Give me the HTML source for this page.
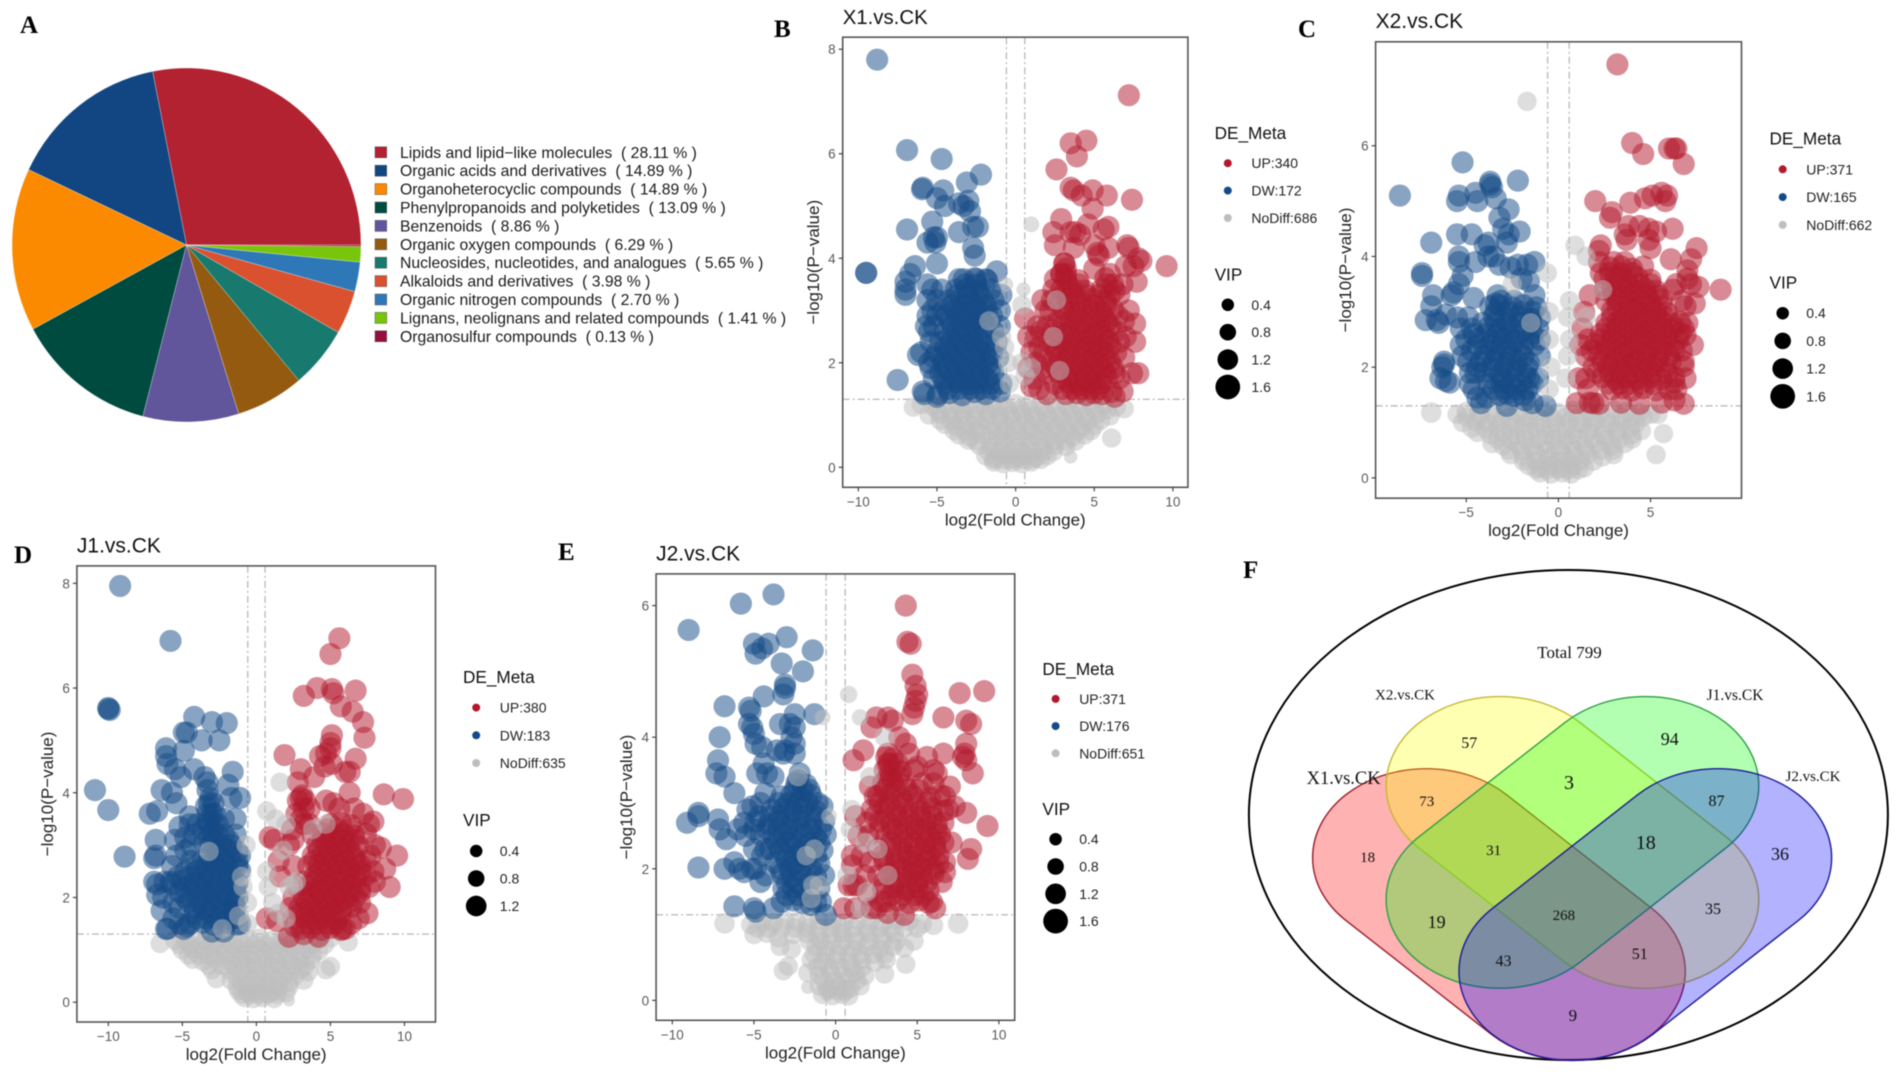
<!DOCTYPE html>
<html lang="en">
<head>
<meta charset="utf-8">
<title>Metabolite classes, volcano plots and Venn diagram</title>
<style>
html,body{margin:0;padding:0;background:#fff;}
svg{display:block;font-family:"Liberation Sans",Arial,sans-serif;filter:blur(0.45px);}
.letter{font-family:"Liberation Serif",serif;font-weight:bold;font-size:25px;fill:#000;}
.vt{font-family:"Liberation Serif",serif;fill:#111;text-anchor:middle;}
</style>
</head>
<body>
<svg id="figure" width="1902" height="1076" viewBox="0 0 1902 1076" xmlns="http://www.w3.org/2000/svg">
  <rect width="1902" height="1076" fill="#fff"/>
  <text class="letter" x="20" y="33">A</text>
  <text class="letter" x="774" y="37">B</text>
  <text class="letter" x="1298" y="37">C</text>
  <text class="letter" x="14" y="563">D</text>
  <text class="letter" x="558" y="560">E</text>
  <text class="letter" x="1243" y="578">F</text>

  <g id="pie"></g>
  <g id="pie-legend"></g>
  <g id="volcanoes"></g>

  <g id="venn">
    <ellipse cx="1568.4" cy="815" rx="319.5" ry="245" fill="none" stroke="#000" stroke-width="2"/>
    <g transform="translate(1230,550) scale(0.4286,0.3355)">
      <rect x="-505" y="-265" width="1010" height="530" rx="265" ry="265" transform="translate(627.5,1086.5) rotate(45)" fill="#ff0000" fill-opacity="0.3" stroke="#9c1c2c" stroke-width="1.4" vector-effect="non-scaling-stroke"/>
      <rect x="-505" y="-265" width="1010" height="530" rx="265" ry="265" transform="translate(799,871.5) rotate(45)" fill="#ffff00" fill-opacity="0.3" stroke="#c4b832" stroke-width="1.4" vector-effect="non-scaling-stroke"/>
      <rect x="-505" y="-265" width="1010" height="530" rx="265" ry="265" transform="translate(799,871.5) rotate(-45)" fill="#00ff00" fill-opacity="0.3" stroke="#2f9e44" stroke-width="1.4" vector-effect="non-scaling-stroke"/>
      <rect x="-505" y="-265" width="1010" height="530" rx="265" ry="265" transform="translate(969,1086.5) rotate(-45)" fill="#0000ff" fill-opacity="0.3" stroke="#1c1c96" stroke-width="1.4" vector-effect="non-scaling-stroke"/>
    </g>
    <text class="vt" x="1569.5" y="658" font-size="17">Total 799</text>
    <text class="vt" x="1405" y="699.5" font-size="15">X2.vs.CK</text>
    <text class="vt" x="1735" y="700" font-size="15.5">J1.vs.CK</text>
    <text class="vt" x="1343.6" y="784" font-size="18.5">X1.vs.CK</text>
    <text class="vt" x="1813" y="781" font-size="15">J2.vs.CK</text>
    <text class="vt" x="1469.2" y="748" font-size="16">57</text>
    <text class="vt" x="1669.8" y="745" font-size="18">94</text>
    <text class="vt" x="1569" y="789" font-size="20">3</text>
    <text class="vt" x="1426.7" y="806" font-size="15">73</text>
    <text class="vt" x="1716.5" y="806" font-size="16">87</text>
    <text class="vt" x="1493.6" y="855" font-size="15">31</text>
    <text class="vt" x="1645.8" y="849" font-size="20">18</text>
    <text class="vt" x="1367.6" y="862" font-size="15">18</text>
    <text class="vt" x="1780" y="860" font-size="18">36</text>
    <text class="vt" x="1436.6" y="928" font-size="18">19</text>
    <text class="vt" x="1563.9" y="920" font-size="15">268</text>
    <text class="vt" x="1713" y="914" font-size="16">35</text>
    <text class="vt" x="1503.5" y="966" font-size="16">43</text>
    <text class="vt" x="1639.8" y="959" font-size="16">51</text>
    <text class="vt" x="1572.9" y="1021" font-size="17">9</text>
  </g>
</svg>

<script>
const pieLabels = ["Lipids and lipid\u2212like molecules","Organic acids and derivatives","Organoheterocyclic compounds","Phenylpropanoids and polyketides","Benzenoids","Organic oxygen compounds","Nucleosides, nucleotides, and analogues","Alkaloids and derivatives","Organic nitrogen compounds","Lignans, neolignans and related compounds","Organosulfur compounds"];
const pieValues = [28.11,14.89,14.89,13.09,8.86,6.29,5.65,3.98,2.70,1.41,0.13];
const pieColors = ["#b22231","#124682","#fb8a00","#004b40","#61559b","#945a10","#187a6e","#d9512f","#2f78b7","#78c50b","#960d3f"];

const vipLevels = [0.4,0.8,1.2,1.6];
const vipLevelsJ1 = [0.4,0.8,1.2];

const x1XTicks = [-10,-5,0,5,10];
const x1YTicks = [0,2,4,6,8];
const x1Counts = [340,172,686];
const x1Down = [[-8.8,7.8],[-6.9,6.07],[-4.7,5.9],[-2.2,5.6],[-3.1,5.45],[-5.9,5.35],[-5.95,5.32],[-4.6,5.3],[-5,5.15],[-4.5,5],[-3.6,5.05],[-3.3,5],[-3,5.1],[-2.9,4.9],[-6.9,4.55],[-5.3,4.7],[-2.7,4.6],[-2.4,4.6],[-3.6,4.5],[-5,4.4],[-5.2,4.4],[-5.6,4.3],[-5.1,4.3],[-2.7,4.2],[-2.6,4.05],[-9.5,3.72],[-9.5,3.72],[-5,3.9],[-6.4,3.85],[-6.7,3.7],[-7,3.55],[-7,3.4],[-7,3.3],[-5.6,3.5],[-5.3,3.4],[-4.7,3.4],[-3.6,3.6],[-2.5,3.6],[-1.2,3.75],[-1.9,3.6],[-6.2,2.15],[-6,2.2],[-5.9,1.45],[-5.8,1.4],[-5.7,2.7],[-5.6,2.9],[-5.2,1.7],[-5,1.35],[-5.4,2.4],[-5,2.9],[-5.3,3],[-7.5,1.67],
[-4.9,1.4],[-4.2,1.42],[-3.4,1.38],[-2.6,1.44],[-1.9,1.4],[-1,1.45],[-4.5,1.6],[-3.7,1.63],[-3,1.58],[-2.3,1.62],[-1.6,1.6],[-4.8,1.8],[-4.1,1.82],[-3.4,1.78],[-2.7,1.8],[-2.1,1.84],[-1.4,1.8],[-4.6,2],[-3.9,2.02],[-3.2,1.97],[-2.5,2.02],[-1.8,1.98],[-5,2.2],[-4.3,2.22],[-3.6,2.18],[-2.9,2.2],[-2.2,2.23],[-1.5,2.18],[-4.8,2.4],[-4.1,2.42],[-3.4,2.38],[-2.7,2.42],[-2,2.38],[-1.2,2.4],[-4.5,2.6],[-3.8,2.62],[-3.1,2.58],[-2.4,2.62],[-1.4,2.6],[-4.2,2.8],[-3.5,2.82],[-2.8,2.78],[-2.1,2.82],[-4.6,3],[-3.9,3.02],[-3.2,2.98],[-2.5,3.02],[-1.8,2.98],[-1,3],[-4.2,3.2],[-3.5,3.22],[-2.8,3.18],[-2.1,3.22],[-1.4,3.2],[-3.8,3.4],[-3.1,3.42],[-2.4,3.38],[-1.6,3.4],[-3.3,3.6],[-2.6,3.62],[-1.8,3.58],
[-4.3,1.5],[-3.6,1.5],[-2.9,1.5],[-2.2,1.5],[-1.5,1.5],[-4.6,1.7],[-3.9,1.7],[-3.2,1.7],[-2.5,1.7],[-1.8,1.7],[-4.4,1.9],[-3.7,1.9],[-3,1.9],[-2.3,1.9],[-1.6,1.9],[-4.7,2.1],[-4,2.1],[-3.3,2.1],[-2.6,2.1],[-1.9,2.1],[-4.5,2.3],[-3.8,2.3],[-3.1,2.3],[-2.4,2.3],[-1.7,2.3],[-4.2,2.5],[-3.5,2.5],[-2.8,2.5],[-2.1,2.5],[-4,2.7],[-3.3,2.7],[-2.6,2.7],[-1.9,2.7],[-4.4,2.9],[-3.7,2.9],[-3,2.9],[-2.3,2.9],[-1.5,2.9],[-4,3.1],[-3.3,3.1],[-2.6,3.1],[-1.9,3.1],[-3.7,3.3],[-3,3.3],[-2.3,3.3],[-3.2,3.5],[-2.5,3.5],
[-5.5,2],[-5.5,2.6],[-5.6,3.2],[-5.2,2.1],[-5.2,2.7],[-5,3.2],[-5.4,1.9],[-1,2.7],[-1.1,2.1],[-0.9,1.6],[-0.9,3.3]];
const x1Up = [[7.2,7.12],[3.5,6.2],[4.5,6.25],[3.9,5.95],[2.6,5.7],[3.5,5.35],[3.7,5.3],[4.9,5.3],[4.2,5.2],[5.8,5.2],[7.4,5.12],[4.9,4.95],[2.9,4.75],[2.4,4.5],[3.5,4.5],[3.8,4.5],[4.6,4.65],[5.6,4.55],[5.9,4.6],[4.1,4.45],[2.5,4.25],[3.7,4.2],[5,4.25],[5.9,4.2],[5.3,4.05],[5.2,4.1],[7.1,4.25],[7.2,4.2],[7.8,4],[8,3.95],[9.6,3.85],[7.5,3.85],[7,3.85],[7.7,3.55],[6,3.7],[5,3.8],[3.1,3.9],[3.2,3.8],[2.9,3.7],[0.6,2.85],[0.8,2.5],[1,2.2],[0.8,1.9],[1,1.55],[1.4,2.7],[1.7,3.2],[1.8,1.9],[7.8,1.8],[7.4,1.8],[7.6,2.4],[7.6,2.75],[7.2,3],[7,2.5],[6.9,2.1],[6.3,1.35],[6.8,1.45],
[3.2,1.4],[3.9,1.42],[4.5,1.38],[5,1.42],[5.5,1.4],[6.1,1.44],[2.5,1.6],[3.4,1.62],[4.1,1.58],[4.8,1.62],[5.4,1.6],[2,1.8],[2.8,1.82],[3.6,1.78],[4.3,1.82],[5,1.78],[5.7,1.82],[6.3,1.8],[2.3,2],[3.1,2.02],[3.9,1.98],[4.6,2.02],[5.3,1.98],[6,2.02],[1.8,2.2],[2.6,2.22],[3.4,2.18],[4.2,2.22],[4.9,2.18],[5.6,2.22],[6.4,2.2],[2.1,2.4],[2.9,2.42],[3.7,2.38],[4.5,2.42],[5.2,2.38],[5.9,2.42],[1.6,2.6],[2.4,2.62],[3.3,2.58],[4.1,2.62],[4.9,2.58],[5.6,2.62],[6.4,2.6],[2.7,2.8],[3.5,2.82],[4.3,2.78],[5.1,2.82],[5.8,2.78],[1.9,3],[3,3.02],[3.8,2.98],[4.6,3.02],[5.4,2.98],[6.2,3.02],[2.3,3.2],[3.3,3.22],[4.1,3.18],[4.9,3.22],[5.7,3.18],[2.9,3.4],[3.6,3.42],[4.4,3.38],[5.5,3.42],[6.3,3.38],[2.5,3.6],[3.2,3.62],[4,3.58],[5.7,3.62],
[3,1.5],[3.6,1.5],[4.2,1.5],[4.8,1.5],[5.3,1.5],[2.9,1.7],[3.7,1.7],[4.4,1.7],[5.1,1.7],[5.8,1.7],[2.6,1.9],[3.4,1.9],[4.1,1.9],[4.8,1.9],[5.5,1.9],[6.2,1.9],[2.8,2.1],[3.5,2.1],[4.3,2.1],[5,2.1],[5.7,2.1],[2.4,2.3],[3.2,2.3],[3.9,2.3],[4.6,2.3],[5.3,2.3],[6,2.3],[2.7,2.5],[3.5,2.5],[4.2,2.5],[4.9,2.5],[5.6,2.5],[3,2.7],[3.8,2.7],[4.5,2.7],[5.3,2.7],[6,2.7],[3.2,2.9],[4,2.9],[4.8,2.9],[5.6,2.9],[3.4,3.1],[4.2,3.1],[5,3.1],[5.8,3.1],[3,3.3],[3.7,3.3],[4.5,3.3],[5.3,3.3],[6,3.3],[3.3,3.5],[4,3.5],[5.8,3.5],[2.9,3.7],[3.2,3.7],[3.1,3.9],
[1.3,2],[1.5,2.3],[1.2,1.7],[1.5,1.5],[2,1.4],[2,2.7],[2.2,3],[2.4,3.4],[1.3,2.5],[6.6,1.7],[6.6,2.4],[6.5,2.9],[6.6,3.3],[6.8,3.5],[6.9,2.8],[6.2,3.5]];
const x1NoDiff = [[-6.5,1.15],[-6,1.2],[-5.3,1.18],[-4.5,1.22],[-3.7,1.2],[-3,1.18],[-2.2,1.22],[-1.5,1.2],[-0.7,1.18],[0,1.22],[0.8,1.2],[1.6,1.18],[2.4,1.22],[3.2,1.2],[4,1.18],[4.8,1.22],[5.6,1.2],[6.4,1.15],[6.9,1.12],[-5.5,1],[-4.8,1.02],[-4,0.98],[-3.3,1.02],[-2.5,0.98],[-1.7,1.02],[-1,0.98],[-0.3,1],[0.4,1.02],[1.2,0.98],[2,1.02],[2.8,0.98],[3.6,1.02],[4.4,0.98],[5.2,1.02],[6,0.98],[-4.5,0.82],[-3.8,0.78],[-3,0.82],[-2.2,0.78],[-1.4,0.82],[-0.6,0.78],[0.2,0.82],[1,0.78],[1.8,0.82],[2.6,0.78],[3.4,0.82],[4.2,0.78],[5,0.8],[-3.6,0.62],[-2.9,0.58],[-2,0.62],[-1.2,0.58],[-0.4,0.62],[0.4,0.58],[1.2,0.62],[2,0.58],[2.8,0.62],[3.6,0.58],[4.4,0.62],[6.1,0.56],[-3,0.52],[-2.3,0.42],[-1.5,0.38],[-0.7,0.42],[0.1,0.38],[0.9,0.42],[1.7,0.38],[2.5,0.42],[3.2,0.4],[-1.9,0.22],[-1.3,0.18],[-0.6,0.22],[0.1,0.18],[0.7,0.22],[1.3,0.18],[2,0.22],[3.5,0.2,0.3],[-1.4,0.1],[-0.8,0.07],[-0.2,0.09],[0.4,0.07],[1,0.1],[1,4.65,0.6],[0.5,3.4,0.4],[0.4,3.1],[-0.6,3.5,0.4],[-0.9,2.5],[-0.7,2.3],[-0.5,2],[0.4,2],[0.6,1.75],[-0.4,1.6],[-1.7,2.8],[2.4,2.5],[2.8,1.85],[2.6,3.2],[1,1.9],
[-5,1.1],[-4.2,1.1],[-3.4,1.1],[-2.6,1.1],[-1.9,1.1],[-1.2,1.1],[-0.5,1.1],[0.3,1.1],[1,1.1],[1.8,1.1],[2.6,1.1],[3.4,1.1],[4.2,1.1],[5,1.1],[5.8,1.1],[-4.8,0.9],[-4.1,0.9],[-3.4,0.9],[-2.6,0.9],[-1.8,0.9],[-1,0.9],[-0.2,0.9],[0.6,0.9],[1.4,0.9],[2.2,0.9],[3,0.9],[3.8,0.9],[4.6,0.9],[5.4,0.9],[-3.9,0.7],[-3.2,0.7],[-2.5,0.7],[-1.6,0.7],[-0.8,0.7],[0,0.7],[0.8,0.7],[1.6,0.7],[2.4,0.7],[3.2,0.7],[4,0.7],[4.8,0.7],[-2.5,0.5],[-1.6,0.5],[-0.8,0.5],[0,0.5],[0.8,0.5],[1.6,0.5],[2.4,0.5],[3.2,0.5],[3.8,0.5],[-1.7,0.3],[-1,0.3],[-0.3,0.3],[0.4,0.3],[1.1,0.3],[1.8,0.3],[2.4,0.3],[-1.4,0.15],[-0.8,0.15],[-0.2,0.15],[0.4,0.15],[1,0.15],[1.6,0.15]];

const x2XTicks = [-5,0,5];
const x2YTicks = [0,2,4,6];
const x2Counts = [371,165,662];
const x2Down = [[-8.6,5.1],[-5.2,5.7],[-2.2,5.37],[-3.7,5.35],[-3.7,5.3],[-3.6,5.25],[-5.4,5.1],[-5.5,5],[-4.5,5.15],[-4.4,5],[-3.4,5.05],[-2.7,4.85],[-3.2,4.7],[-3,4.5],[-2.1,4.45],[-2.7,4.4],[-2.8,4.25],[-5.5,4.4],[-4.7,4.4],[-6.9,4.25],[-3.8,4.25],[-4,4.2],[-3.5,4],[-5.4,4],[-5.4,3.9],[-4.5,3.9],[-3.8,4],[-2.6,3.8],[-2.2,3.85],[-1.7,3.85],[-1.3,3.9],[-3.2,3.85],[-7.4,3.7],[-7.4,3.65],[-5.2,3.65],[-5.4,3.5],[-2,3.6],[-1.6,3.55],[-5.7,3.35],[-5.8,3.3],[-6.8,3.3],[-6.9,3.1],[-7.2,2.85],[-6.5,2.8],[-6.1,2.95],[-4.6,3.25],[-3.3,3.3],[-3.4,3.15],[-6.6,2.85],[-5.3,2.4],[-6.2,2.05],[-6.3,2],[-6.2,2.1],[-6.4,1.8],[-6.1,1.75],[-5.9,1.72],[-4.8,1.7],[-4.9,2.1],[-4.4,1.45],[-4.2,1.35],[-3.9,1.45],[-1.4,1.35],[-1.8,1.4],[-0.7,1.3],[-2.8,1.3],
[-3.2,1.5],[-2.8,1.52],[-2.4,1.48],[-1.9,1.5],[-3.8,1.7],[-3.1,1.72],[-2.6,1.68],[-2,1.72],[-1.4,1.7],[-4.8,1.9],[-4,1.92],[-3.2,1.88],[-2.6,1.92],[-1.8,1.88],[-4.2,2.1],[-3.5,2.12],[-2.9,2.08],[-2.2,2.12],[-1.6,2.08],[-4.7,2.3],[-4,2.32],[-3.4,2.28],[-2.8,2.32],[-2.1,2.28],[-5,2.5],[-4.3,2.52],[-3.6,2.48],[-3,2.52],[-2.4,2.48],[-1.6,2.52],[-1,2.5],[-4.7,2.7],[-3.8,2.72],[-3.2,2.68],[-2.6,2.72],[-1.9,2.68],[-1.1,2.7],[-4.9,2.9],[-3.5,2.92],[-2.9,2.88],[-2.2,2.92],[-1.5,2.88],[-3.7,3.1],[-3.2,3.12],[-2.5,3.08],[-1.9,3.12],[-1.2,3.08],
[-3.5,1.6],[-2.9,1.6],[-2.3,1.6],[-1.7,1.6],[-3.6,1.8],[-3,1.8],[-2.4,1.8],[-1.6,1.8],[-4.4,2],[-3.6,2],[-2.9,2],[-2.3,2],[-1.7,2],[-4,2.2],[-3.3,2.2],[-2.6,2.2],[-1.9,2.2],[-4.4,2.4],[-3.7,2.4],[-3.1,2.4],[-2.5,2.4],[-1.9,2.4],[-1.3,2.4],[-4.6,2.6],[-3.9,2.6],[-3.3,2.6],[-2.7,2.6],[-2.1,2.6],[-1.4,2.6],[-4.1,2.8],[-3.4,2.8],[-2.8,2.8],[-2.1,2.8],[-1.5,2.8],[-3.4,3],[-2.7,3],[-2,3],[-1.4,3],[-3.1,3.2],[-2.4,3.2],
[-5.3,2.7],[-5.2,2.2],[-5.5,2.9],[-4.6,1.6],[-4.5,1.9],[-1,2.2],[-1.1,1.8],[-1,2.9],[-1.3,3.3]];
const x2Up = [[3.2,7.47],[4,6.05],[4.6,5.85],[6,5.95],[6.3,5.95],[6.4,5.95],[6.8,5.67],[2,5],[3.9,4.97],[4.7,5.05],[5.1,5.1],[5.6,5.15],[5.9,5.1],[5.8,5],[2.9,4.8],[2.8,4.7],[3.8,4.55],[4.4,4.55],[4.9,4.5],[5.3,4.45],[6.2,4.5],[3.6,4.4],[3.7,4.3],[4.9,4.3],[2.3,4.2],[2.2,4.1],[5,4.15],[7.5,4.15],[7.2,3.95],[6.1,3.95],[2.2,3.9],[2.3,3.7],[7,3.75],[7,3.6],[7.2,3.5],[7.6,3.45],[8.8,3.4],[7.4,3.15],[1.7,3.3],[2.5,3.4],[6.7,3.2],[6.4,3.5],
[1,1.35],[1.7,1.36],[2.2,1.34],[3.4,1.36],[4.4,1.34],[5.6,1.36],[6.8,1.34],[6.3,1.4],[2.9,1.6],[3.5,1.62],[4,1.58],[4.6,1.62],[5.3,1.58],[6,1.6],[6.3,1.72],[1.5,1.8],[2.4,1.82],[3.1,1.78],[3.7,1.82],[4.3,1.78],[5,1.82],[5.6,1.78],[6.3,1.82],[1.9,2],[2.7,2.02],[3.3,1.98],[3.9,2.02],[4.5,1.98],[5.1,2.02],[5.8,1.98],[6.8,2.02],[1.5,2.2],[2.2,2.22],[2.9,2.18],[3.5,2.22],[4.1,2.18],[4.8,2.22],[5.4,2.18],[6,2.2],[1.2,2.4],[2,2.42],[2.6,2.38],[3.2,2.42],[3.8,2.38],[4.4,2.42],[5,2.38],[5.6,2.42],[6.2,2.38],[7.3,2.4],[2.3,2.6],[2.9,2.62],[3.5,2.58],[4.1,2.62],[4.7,2.58],[5.3,2.62],[5.9,2.58],[6.6,2.62],[6.9,2.58],[2.6,2.8],[3.2,2.82],[3.8,2.78],[4.4,2.82],[5,2.78],[5.6,2.82],[6.2,2.78],[6.6,2.82],[1.4,3],[2.9,3.02],[3.5,2.98],[4.1,3.02],[4.7,2.98],[5.3,3.02],[5.9,2.98],[2.6,3.2],[3.2,3.22],[3.8,3.18],[4.4,3.22],[5,3.18],[5.6,3.22],[2.9,3.4],[3.5,3.42],[4.1,3.38],[4.7,3.42],[5.3,3.38],[2.5,3.6],[3.1,3.62],[3.7,3.58],[4.3,3.62],[5,3.58],[2.8,3.8],[3.4,3.82],[4,3.78],[4.6,3.82],
[2.7,1.7],[3.3,1.7],[3.9,1.7],[4.5,1.7],[5.1,1.7],[2.1,1.9],[2.8,1.9],[3.4,1.9],[4,1.9],[4.6,1.9],[5.2,1.9],[5.9,1.9],[2.4,2.1],[3,2.1],[3.6,2.1],[4.2,2.1],[4.8,2.1],[5.4,2.1],[6.1,2.1],[1.8,2.3],[2.6,2.3],[3.2,2.3],[3.8,2.3],[4.4,2.3],[5,2.3],[5.6,2.3],[6.3,2.3],[1.6,2.5],[2.3,2.5],[2.9,2.5],[3.5,2.5],[4.1,2.5],[4.7,2.5],[5.3,2.5],[5.9,2.5],[6.5,2.5],[2.6,2.7],[3.2,2.7],[3.8,2.7],[4.4,2.7],[5,2.7],[5.6,2.7],[6.2,2.7],[6.8,2.7],[2.9,2.9],[3.5,2.9],[4.1,2.9],[4.7,2.9],[5.3,2.9],[5.9,2.9],[3.2,3.1],[3.8,3.1],[4.4,3.1],[5,3.1],[5.6,3.1],[3,3.3],[3.6,3.3],[4.2,3.3],[4.8,3.3],[5.4,3.3],[3.2,3.5],[3.8,3.5],[4.4,3.5],[5,3.5],[2.8,3.7],[3.4,3.7],[4,3.7],[3,3.9],[3.6,3.9],
[1.3,2.7],[1.1,1.8],[1.6,1.6],[1.9,1.35],[6.7,2.3],[7,2.8],[6.9,3.1],[6.2,3.4],[6.4,1.6],[6.9,1.8],[6.8,2.1]];
const x2NoDiff = [[-6.9,1.18,1.2],[-1.7,6.8],[0.9,4.2],[1.5,4],[-0.6,3.7],[-0.5,3],[0.6,3.2],[0.5,2.9],[-0.5,2.5],[0.6,2.5],[0.5,2.2],[-0.4,2],[0.4,1.8],[-0.5,1.6],[5.7,0.8],[5.3,0.42],[5.4,1.15],[-1.5,2.8],[-2.5,3.5],[2.4,3.4],[1.5,2.9],
[-5.5,1.15],[-5,1.2],[-4.3,1.18],[-3.6,1.22],[-2.9,1.2],[-2.2,1.18],[-1.5,1.22],[-0.8,1.2],[0,1.18],[0.8,1.22],[1.6,1.2],[2.3,1.18],[3,1.22],[3.7,1.2],[4.4,1.18],[5,1.15],[-5.2,1],[-4.5,1.02],[-3.8,0.98],[-3.1,1.02],[-2.3,0.98],[-1.6,1.02],[-0.9,0.98],[-0.1,1],[0.6,1.02],[1.3,0.98],[2,1.02],[2.8,0.98],[3.5,1.02],[4.2,0.98],[4.5,0.85],[-4.4,0.82],[-3.7,0.78],[-3,0.82],[-2.3,0.78],[-1.5,0.82],[-0.7,0.78],[0,0.82],[0.8,0.78],[1.6,0.82],[2.4,0.78],[3.2,0.82],[4,0.78],[-3.6,0.62],[-3,0.58],[-2.2,0.62],[-1.5,0.58],[-0.7,0.62],[0,0.58],[0.7,0.62],[1.4,0.58],[2.1,0.62],[2.9,0.58],[3.6,0.62],[-2.6,0.42],[-1.9,0.38],[-1.2,0.42],[-0.5,0.38],[0.2,0.42],[0.9,0.38],[1.6,0.42],[2.4,0.38],[3,0.42],[-1.6,0.22],[-1,0.18],[-0.4,0.22],[0.2,0.18],[0.8,0.22],[1.4,0.18],[-1,0.09],[-0.4,0.07],[0.2,0.09],[0.7,0.07],
[-5,1.1],[-4.2,1.1],[-3.4,1.1],[-2.6,1.1],[-1.9,1.1],[-1.1,1.1],[-0.4,1.1],[0.4,1.1],[1.1,1.1],[1.8,1.1],[2.6,1.1],[3.4,1.1],[4,1.1],[4.6,1.1],[-4.7,0.9],[-4,0.9],[-3.3,0.9],[-2.6,0.9],[-1.9,0.9],[-1.2,0.9],[-0.4,0.9],[0.4,0.9],[1.1,0.9],[1.8,0.9],[2.5,0.9],[3.2,0.9],[3.9,0.9],[-3.3,0.7],[-2.6,0.7],[-1.8,0.7],[-1.1,0.7],[-0.3,0.7],[0.4,0.7],[1.1,0.7],[1.9,0.7],[2.6,0.7],[3.3,0.7],[4,0.7],[-2.7,0.5],[-2,0.5],[-1.3,0.5],[-0.6,0.5],[0.1,0.5],[0.8,0.5],[1.5,0.5],[2.3,0.5],[3,0.5],[-1.9,0.3],[-1.2,0.3],[-0.6,0.3],[0,0.3],[0.6,0.3],[1.2,0.3],[1.9,0.3],[-1.2,0.15],[-0.6,0.15],[0,0.15],[0.6,0.15],[1.1,0.15]];

const j1XTicks = [-10,-5,0,5,10];
const j1YTicks = [0,2,4,6,8];
const j1Counts = [380,183,635];
const j1Down = [[-9.2,7.95],[-5.8,6.9],[-10,5.6],[-10,5.62],[-9.9,5.58],[-4.2,5.45],[-3,5.35],[-2,5.33],[-4.9,5.15],[-4.7,5.15],[-3.7,5],[-2.5,5],[-6.1,4.85],[-4.9,4.8],[-6.1,4.7],[-6,4.55],[-4.2,4.45],[-5.5,4.45],[-5.1,4.3],[-1.6,4.4],[-3.5,4.3],[-3.3,4.2],[-1.9,4.15],[-10.9,4.05],[-6.4,4.05],[-5.7,4],[-5.4,3.8],[-1.1,3.9],[-1.7,3.9],[-10,3.67],[-7.2,3.6],[-6.7,3.65],[-4.5,3.55],[-5.2,3.35],[-6.8,3.1],[-8.9,2.78],[-6.8,2.8],[-6.9,2.75],[-5.5,3.1],[-4.8,3.15],[-1.4,3.5],[-1.4,3.2],[-6.9,2.3],[-6.7,2.25],[-6.7,2.05],[-6.4,1.75],[-6.1,1.4],[-6,1.4],[-4.9,1.4],[-4.7,1.45],[-3,1.35],[-2.2,1.35],[-1.7,1.75],[-5.7,2.25],[-3.3,4.05],[-3.1,3.9],[-3.4,3.75],[-3,3.6],[-3.3,3.45],[-2.8,3.4],[-3.2,3.2],[-2.6,3.2],[-3.6,3.3],[-2.9,3.05],[-3.5,3.05],
[-4.5,1.5],[-3.6,1.52],[-2.9,1.48],[-2,1.52],[-1.3,1.48],[-4.2,1.7],[-3.2,1.72],[-2.5,1.68],[-1.5,1.7],[-5.6,1.9],[-4.6,1.92],[-3.8,1.88],[-3.1,1.92],[-2.4,1.88],[-1.5,1.92],[-5.2,2.1],[-4.4,2.12],[-3.6,2.08],[-2.9,2.12],[-2.2,2.08],[-1.4,2.1],[-5.8,2.3],[-5,2.32],[-4.2,2.28],[-3.5,2.32],[-2.8,2.28],[-2,2.32],[-1.3,2.28],[-4.8,2.5],[-4,2.52],[-3.3,2.48],[-2.6,2.52],[-1.9,2.48],[-1.1,2.52],[-4.4,2.7],[-3.6,2.72],[-2.9,2.68],[-2.2,2.72],[-1.3,2.68],[-2.6,2.9],[-2,2.92],[-1.3,2.88],[-4.8,2.9],
[-4,1.6],[-3.4,1.6],[-2.7,1.6],[-2,1.6],[-1.4,1.6],[-5.2,1.8],[-4.2,1.8],[-3.5,1.8],[-2.8,1.8],[-2.1,1.8],[-1.4,1.8],[-4.8,2],[-4,2],[-3.3,2],[-2.6,2],[-1.9,2],[-1.3,2],[-4.9,2.2],[-4.2,2.2],[-3.5,2.2],[-2.8,2.2],[-2.1,2.2],[-1.4,2.2],[-5.3,2.4],[-4.5,2.4],[-3.8,2.4],[-3.1,2.4],[-2.4,2.4],[-1.7,2.4],[-4.1,2.6],[-3.4,2.6],[-2.7,2.6],[-2,2.6],[-1.3,2.6],[-3.2,2.8],[-2.5,2.8],[-1.8,2.8],[-3.1,3],[-2.4,3],[-1.7,3],[-2.9,3.2],[-2.2,3.2],[-3.2,3.4],[-2.6,3.4],[-3.3,3.6],[-2.8,3.6],[-3.2,3.8],[-2.9,3.8],
[-5.7,2.6],[-5.4,2.8],[-6.2,2.3],[-6.3,2],[-5.6,1.6],[-5.2,1.5],[-1.1,1.5],[-4.2,3.2],[-4.4,3],[-4,3.4],[-4.5,3.4],[-2.2,3.5],[-1.9,3.1],[-1.1,2.8]];
const j1Up = [[5.6,6.95],[5,6.65],[3.2,5.85],[4.1,6],[5.1,5.98],[5.2,5.9],[6.7,5.95],[5.7,5.65],[6.5,5.55],[7.2,5.35],[7.3,5.05],[5.1,5.1],[5,4.95],[5,4.85],[4.7,4.75],[4.3,4.7],[1.9,4.72],[6.7,4.65],[4.6,4.5],[3,4.45],[5.1,4.55],[6,4.4],[6.3,4.4],[3.9,4.3],[2.8,4.2],[6.3,4],[8.6,3.97],[9.9,3.88],[3.1,3.95],[3.3,3.85],[2.8,3.85],[4.7,3.85],[5.2,3.8],[5.6,3.7],[6.6,3.7],[7.2,3.6],[7.9,3.45],[2.7,3.6],[3.6,3.4],[0.9,3.15],[1.2,3.1],[2.2,3],[9.5,2.8],[8.4,2.95],[8.7,2.55],[9,2.2],[7.5,1.7],[1.5,2.7],[1.6,2.4],[2.5,2.6],[0.7,1.6],[1.4,1.55],[2.2,1.25],[3.2,1.3],[4.2,1.25],[6,1.4],[5.8,1.4],[8,2.3],
[3,1.4],[3.7,1.42],[4.4,1.38],[5,1.42],[5.7,1.38],[2.5,1.6],[3.3,1.62],[4,1.58],[4.7,1.62],[5.4,1.58],[2.9,1.8],[3.6,1.82],[4.3,1.78],[5,1.82],[5.7,1.78],[6.4,1.82],[3.2,2],[3.9,2.02],[4.6,1.98],[5.3,2.02],[6,1.98],[6.7,2.02],[2.8,2.2],[3.5,2.22],[4.2,2.18],[4.9,2.22],[5.6,2.18],[6.3,2.22],[7,2.18],[3.9,2.4],[4.6,2.42],[5.3,2.38],[6,2.42],[6.7,2.38],[7.4,2.42],[3.5,2.6],[4.2,2.62],[4.9,2.58],[5.6,2.62],[6.3,2.58],[7,2.62],[3.8,2.8],[4.5,2.82],[5.2,2.78],[5.9,2.82],[6.6,2.78],[4.1,3],[4.8,3.02],[5.5,2.98],[6.2,3.02],[6.9,2.98],[3.8,3.2],[4.5,3.22],[5.2,3.18],[5.9,3.22],[6.6,3.18],[7.4,3.22],[5,3.4],[5.7,3.42],[6.4,3.38],
[3.4,1.5],[4.1,1.5],[4.8,1.5],[5.4,1.5],[3,1.7],[3.7,1.7],[4.4,1.7],[5.1,1.7],[5.7,1.7],[3.4,1.9],[4.1,1.9],[4.8,1.9],[5.5,1.9],[6.2,1.9],[3.5,2.1],[4.2,2.1],[4.9,2.1],[5.6,2.1],[6.3,2.1],[7,2.1],[3.2,2.3],[3.9,2.3],[4.6,2.3],[5.3,2.3],[6,2.3],[6.7,2.3],[4.2,2.5],[4.9,2.5],[5.6,2.5],[6.3,2.5],[7,2.5],[3.9,2.7],[4.6,2.7],[5.3,2.7],[6,2.7],[6.7,2.7],[4.2,2.9],[4.9,2.9],[5.6,2.9],[6.3,2.9],[4.5,3.1],[5.2,3.1],[5.9,3.1],[6.6,3.1],[4.8,3.3],[5.5,3.3],[6.2,3.3],[3.2,3.7],[3.6,3.7],[3,3.9],
[7.7,2.8],[7.6,2.2],[7.4,2.7],[8,3],[7.6,3.4],[6.9,1.6],[6.4,1.5],[7,1.9],[2.5,2],[2.3,1.8],[2.6,1.45],[2.4,3.3],[3,3.5],[2.5,3.1],[3.2,3.4],[7.9,2.5]];
const j1NoDiff = [[1.6,4.2],[0.7,3.65],[1.3,3.5],[2,3.4],[1.8,2.9],[2.5,2.25],[2.2,2.2],[2.7,2.3],[-0.7,3],[0.7,2.5],[0.8,2.2],[1.1,1.9],[1.5,1.7],[2,1.6],[-0.9,2.2],[-0.6,1.9],[-1,2.4],[-1.2,1.65],[-0.6,1.5],[-2.3,1.4],[-3.2,2.88],[-6.5,1.12],[6.2,1.15],[5,0.68],[4.7,0.62],[2.2,0.03,0.1],[4.7,3.4],[3.8,3.3],
[-5.5,1.18],[-4.8,1.2],[-4.1,1.22],[-3.4,1.18],[-2.7,1.2],[-2,1.22],[-1.2,1.18],[-0.5,1.2],[0.2,1.22],[1,1.18],[1.8,1.2],[2.6,1.22],[3.4,1.18],[4.2,1.2],[5,1.22],[-5,1],[-4.3,1.02],[-3.6,0.98],[-2.8,1.02],[-2.1,0.98],[-1.3,1.02],[-0.6,0.98],[0.2,1.02],[1,0.98],[1.8,1.02],[2.6,0.98],[3.4,1.02],[4.2,0.98],[-4.3,0.82],[-3.6,0.78],[-2.8,0.82],[-1.9,0.78],[-1.1,0.82],[-0.3,0.78],[0.5,0.82],[1.3,0.78],[2.1,0.82],[2.9,0.78],[3.7,0.82],[-3,0.62],[-2.7,0.45],[-1.8,0.62],[-1,0.58],[-0.2,0.62],[0.6,0.58],[1.4,0.62],[2.2,0.58],[3,0.62],[3.5,0.58],[-1.7,0.42],[-1,0.38],[-0.2,0.42],[0.6,0.38],[1.4,0.42],[2.2,0.38],[3.2,0.42],[-1.2,0.22],[-0.6,0.18],[0.1,0.22],[0.8,0.18],[1.4,0.22],[2,0.18],[-0.8,0.09],[-0.2,0.07],[0.4,0.09],[1.2,0.07],
[-5.2,1.1],[-4.5,1.1],[-3.7,1.1],[-3,1.1],[-2.3,1.1],[-1.6,1.1],[-0.9,1.1],[-0.1,1.1],[0.6,1.1],[1.4,1.1],[2.2,1.1],[3,1.1],[3.8,1.1],[4.6,1.1],[-4.6,0.9],[-3.9,0.9],[-3.2,0.9],[-2.4,0.9],[-1.6,0.9],[-0.9,0.9],[-0.2,0.9],[0.6,0.9],[1.4,0.9],[2.2,0.9],[3,0.9],[3.8,0.9],[-3.2,0.7],[-2.3,0.7],[-1.5,0.7],[-0.7,0.7],[0.1,0.7],[0.9,0.7],[1.7,0.7],[2.5,0.7],[3.3,0.7],[-1.4,0.5],[-0.6,0.5],[0.2,0.5],[1,0.5],[1.8,0.5],[2.6,0.5],[-1.3,0.3],[-0.6,0.3],[0.1,0.3],[0.8,0.3],[1.5,0.3],[2.2,0.3],[-1,0.15],[-0.4,0.15],[0.2,0.15],[0.8,0.15],[1.4,0.15]];

const j2XTicks = [-10,-5,0,5,10];
const j2YTicks = [0,2,4,6];
const j2Counts = [371,176,651];
const j2Down = [[-3.8,6.17],[-5.8,6.03],[-9,5.63],[-3,5.52],[-5,5.42],[-4.1,5.42],[-4.5,5.35],[-4.9,5.27],[-1.4,5.32],[-3.3,5.12],[-2,5],[-3.1,4.8],[-3.1,4.75],[-3.2,4.65],[-4.4,4.62],[-6.8,4.47],[-5.3,4.45],[-5.2,4.4],[-2.5,4.35],[-1.3,4.35],[-3.4,4.2],[-2.8,4.2],[-2.5,4.15],[-5.3,4.2],[-5.1,4.15],[-5,4.05],[-2.7,4],[-7.1,4],[-4.9,3.9],[-4.5,3.85],[-3.6,3.8],[-3.2,3.75],[-3.1,3.8],[-2.5,3.9],[-2.5,3.75],[-7.2,3.65],[-7.3,3.45],[-6.8,3.4],[-4.4,3.6],[-4.8,3.45],[-4.2,3.45],[-3.8,3.4],[-2.2,3.45],[-2.3,3.35],[-6.2,3.15],[-4.3,3.15],[-5.1,2.95],[-8.4,2.85],[-8.4,2.8],[-9.1,2.7],[-7.2,2.75],[-7.1,2.6],[-6.7,2.45],[-8.4,2.02],[-6.8,2],[-6.2,2.1],[-5.9,2],[-5.6,1.95],[-5.1,2],[-4.9,2],[-6.2,1.43],[-5,1.4],[-4.9,1.35],[-3.8,1.4],[-1.5,1.45],[-0.6,1.3],
[-3.3,1.5],[-2.6,1.52],[-2,1.48],[-1.2,1.5],[-3.2,1.7],[-2.6,1.72],[-1.9,1.68],[-1,1.7],[-4.3,1.9],[-3.3,1.92],[-2.7,1.88],[-2.1,1.92],[-1.2,1.88],[-3.7,2.1],[-3,2.12],[-2.4,2.08],[-1.8,2.12],[-1,2.08],[-3.4,2.3],[-2.7,2.32],[-2.1,2.28],[-1.4,2.32],[-0.8,2.28],[-5.5,2.5],[-4.6,2.52],[-3.8,2.48],[-3.2,2.52],[-2.6,2.48],[-1.9,2.52],[-1.2,2.48],[-0.6,2.52],[-5.6,2.7],[-4.9,2.72],[-4.1,2.68],[-3.5,2.72],[-2.8,2.68],[-2.2,2.72],[-1.5,2.68],[-0.7,2.72],[-3.9,2.9],[-3.2,2.92],[-2.6,2.88],[-2,2.92],[-1.2,2.88],[-3.3,3.1],[-2.7,3.12],[-2.1,3.08],[-1.5,3.12],[-2.4,3.3],[-1.8,3.28],
[-3,1.6],[-2.3,1.6],[-1.6,1.6],[-3,1.8],[-2.4,1.8],[-1.6,1.8],[-3.4,2],[-2.8,2],[-2.2,2],[-1.5,2],[-3.1,2.2],[-2.5,2.2],[-1.9,2.2],[-1.2,2.2],[-3.6,2.4],[-3,2.4],[-2.4,2.4],[-1.7,2.4],[-1,2.4],[-5,2.6],[-4.2,2.6],[-3.5,2.6],[-2.9,2.6],[-2.2,2.6],[-1.5,2.6],[-0.9,2.6],[-4.7,2.8],[-4,2.8],[-3.4,2.8],[-2.7,2.8],[-2,2.8],[-1.3,2.8],[-3.5,3],[-2.9,3],[-2.3,3],[-1.7,3],[-2.5,3.2],[-2,3.2],[-1.6,3.2],
[-4.6,1.8],[-4,2.3],[-4.5,2.2],[-5.4,2.9],[-5,2.3],[-0.9,1.5],[-0.7,1.9],[-4.3,2.3],[-6,2.6],[-4.6,3],[-1.1,3],[-0.8,2.95]];
const j2Up = [[4.3,6],[4.4,5.45],[4.6,5.42],[4.7,4.95],[4.9,4.78],[5,4.65],[4.9,4.55],[4.8,4.45],[4.7,4.35],[7.6,4.67],[9.1,4.7],[6.6,4.3],[8,4.25],[8.3,4.2],[2.5,4.3],[3.2,4.3],[2.2,4.15],[3.5,4.25],[3.9,4],[4.3,3.9],[8,3.9],[7.9,3.75],[8,3.65],[7.8,3.7],[1.7,3.8],[1.1,3.65],[4.5,3.75],[3.2,3.75],[3.2,3.6],[5.6,3.7],[6.6,3.75],[8.4,3.45],[5,3.55],[3.4,3.4],[6.2,3.45],[6,3.3],[7,3.25],[2.1,3.25],[7.3,2.95],[8,2.85],[9.3,2.65],[7.1,2.4],[8.3,2.3],[8.1,2.15],[6.7,1.95],[1.2,2.8],[1,2.2],[1,2.05],[0.8,1.75],[1.1,1.75],[1.3,1.75],[0.5,1.4],[1.2,1.4],[2.2,1.4],[2.5,1.4],[6.1,1.4],[3.2,1.33],[4.2,1.3],
[3.1,1.5],[3.8,1.52],[4.5,1.48],[5.1,1.52],[5.7,1.48],[2.9,1.7],[3.6,1.72],[4.3,1.68],[5,1.72],[5.7,1.68],[2.6,1.9],[3.3,1.92],[4,1.88],[4.7,1.92],[5.3,1.88],[6,1.92],[2.1,2.1],[3,2.12],[3.7,2.08],[4.4,2.12],[5,2.08],[5.6,2.12],[6.3,2.08],[2.6,2.3],[3.4,2.32],[4.1,2.28],[4.8,2.32],[5.5,2.28],[6.1,2.32],[3.1,2.5],[3.8,2.52],[4.5,2.48],[5.2,2.52],[5.8,2.48],[6.4,2.52],[1.9,2.7],[2.7,2.72],[3.4,2.68],[4.1,2.72],[4.8,2.68],[5.5,2.72],[6.2,2.68],[2.2,2.9],[3,2.92],[3.7,2.88],[4.4,2.92],[5.2,2.88],[5.9,2.92],[6.6,2.88],[2.6,3.1],[3.3,3.12],[4,3.08],[4.7,3.12],[5.8,3.08],[6.4,3.12],[2.9,3.3],[3.5,3.32],[4.2,3.28],[3,3.5],[3.6,3.52],[4,3.48],[3.1,3.7],[3.5,3.68],
[3.4,1.6],[4.1,1.6],[4.8,1.6],[5.4,1.6],[3,1.8],[3.7,1.8],[4.4,1.8],[5,1.8],[5.6,1.8],[3.3,2],[4,2],[4.7,2],[5.3,2],[6,2],[2.9,2.2],[3.7,2.2],[4.4,2.2],[5,2.2],[5.7,2.2],[6.3,2.2],[3.4,2.4],[4.1,2.4],[4.8,2.4],[5.5,2.4],[6.1,2.4],[2.7,2.6],[3.5,2.6],[4.2,2.6],[4.9,2.6],[5.5,2.6],[6.2,2.6],[2.4,2.8],[3.1,2.8],[3.8,2.8],[4.5,2.8],[5.2,2.8],[5.9,2.8],[2.7,3],[3.3,3],[4.1,3],[4.9,3],[5.6,3],[3,3.2],[3.7,3.2],[4.4,3.2],[3.2,3.4],[3.9,3.4],[3.3,3.6],[3.8,3.6],
[6.6,2.4],[6.7,2.1],[6.5,1.8],[5.9,1.5],[6.6,2.7],[6.9,2.9],[6.7,3.1],[6,3.5],[5.3,3.3],[4.8,3.5],[5.1,3.2],[1.8,1.9],[1.6,2.2],[2,1.6],[1.4,2.5],[2.4,3.1],[2.8,1.5],[2,2.5]];
const j2NoDiff = [[0.8,4.65,0.8],[1.5,4.3,0.7],[-0.8,4.3,0.6],[3,4],[1,2.9],[0.9,2.6],[-0.4,2.8,0.6],[2.1,3.4],[-1.3,2.3],[-1.8,2.2],[-1,1.75],[-1.4,1.75],[-1.5,1.55],[0.7,1.9],[1.8,2.4],[2.6,2.3],[3.2,1.9],[1.9,1.65],[-6.8,1.17,1.2],[7.5,1.17,1.2],[1.5,1.4],[-2.3,3.4],
[-5.2,1.15],[-4.5,1.2],[-3.8,1.18],[-3.1,1.22],[-2.4,1.2],[-1.7,1.18],[-1,1.22],[-0.2,1.2],[0.5,1.18],[1.3,1.22],[2.1,1.2],[2.9,1.18],[3.7,1.22],[4.5,1.2],[5.3,1.16],[6,1.14],[-5,1],[-4.2,1.02],[-3.5,0.95],[-2.6,1],[-1.8,1.02],[-1.1,0.98],[-0.3,1],[0.4,1.02],[1.2,0.98],[2,1.02],[2.8,0.98],[3.6,1.02],[4.8,0.9],[-3.4,0.82],[-2.7,0.78],[-1.2,0.82],[-0.6,0.78],[0.3,0.82],[1.1,0.78],[1.9,0.82],[2.7,0.78],[3.5,0.82],[4.2,0.8],[-3.2,0.45],[-2.9,0.52],[-1.5,0.62],[-0.8,0.58],[0,0.62],[0.8,0.58],[1.6,0.62],[2.4,0.58],[3.1,0.62],[4.3,0.55],[-1.7,0.42],[-1,0.38],[-0.3,0.42],[0.5,0.38],[1.2,0.42],[1.8,0.38],[3,0.4],[-1.7,0.2,0.3],[-1,0.22],[-0.4,0.18],[0.2,0.22],[0.9,0.18],[1.5,0.22],[-0.8,0.09],[-0.2,0.07],[0.4,0.09],[0.8,0.07],
[-4.8,1.1],[-4.1,1.1],[-3.3,1.1],[-2.5,1.1],[-1.7,1.1],[-1,1.1],[-0.3,1.1],[0.4,1.1],[1.1,1.1],[1.9,1.1],[2.7,1.1],[3.4,1.1],[4.2,1.1],[5,1.1],[-1.6,0.9],[-0.9,0.9],[-0.2,0.9],[0.5,0.9],[1.3,0.9],[2.1,0.9],[2.9,0.9],[3.7,0.9],[-1.3,0.7],[-0.6,0.7],[0.1,0.7],[0.8,0.7],[1.5,0.7],[2.3,0.7],[3,0.7],[-1.1,0.5],[-0.4,0.5],[0.3,0.5],[1,0.5],[1.6,0.5],[-0.7,0.3],[0,0.3],[0.7,0.3],[1.3,0.3],[-0.5,0.15],[0.1,0.15],[0.6,0.15]];

const SVGNS = 'http://www.w3.org/2000/svg';

function mk(tag, attrs, parent, text) {
  const el = document.createElementNS(SVGNS, tag);
  for (const k in attrs) el.setAttribute(k, attrs[k]);
  if (text !== undefined) el.textContent = text;
  parent.appendChild(el);
  return el;
}

/* Pie chart */
const pieG = document.getElementById('pie');
const legendG = document.getElementById('pie-legend');
const pieCx = 186.5, pieCy = 245, pieRx = 174.5, pieRy = 177;
const pieTotal = pieValues.reduce((a, b) => a + b, 0);
let pieAngle = 0;
pieValues.forEach((v, i) => {
  const a0 = pieAngle;
  const a1 = pieAngle + v / pieTotal * 2 * Math.PI;
  pieAngle = a1;
  const x0 = pieCx + pieRx * Math.cos(a0), y0 = pieCy - pieRy * Math.sin(a0);
  const x1 = pieCx + pieRx * Math.cos(a1), y1 = pieCy - pieRy * Math.sin(a1);
  const large = (a1 - a0) > Math.PI ? 1 : 0;
  const slice = mk('path', {d: `M${pieCx},${pieCy}L${x0},${y0}A${pieRx},${pieRy} 0 ${large} 0 ${x1},${y1}Z`, fill: pieColors[i], stroke: '#ffffff', 'stroke-width': 0.3}, pieG);
  
  

  const rowY = 152.3 + i * 18.4;
  const swatch = mk('rect', {x: 375, y: rowY - 5.5, width: 11.7, height: 11, fill: pieColors[i], stroke: '#555', 'stroke-width': 0.5}, legendG);
  
  
  const label = mk('text', {x: 400, y: rowY + 5.5, 'font-size': 15.75, fill: '#1a1a1a', style: 'white-space:pre'}, legendG, `${pieLabels[i]}  ( ${v.toFixed(2)} % )`);
  
  
});

/* Volcano plots */
const vipRadius = vip => 5.5 + 4 * vip;
const seriesColors = {up: '#b2182b', down: '#144a86', none: '#bebebe'};
const volcanoRoot = document.getElementById('volcanoes');

function drawVolcano(p) {
  const g = mk('g', {}, volcanoRoot);
  
  
  const xScale = v => p.x0 + v * p.xUnit;
  const yScale = v => p.y0 - v * p.yUnit;

  const ref = {stroke: '#bdbdbd', 'stroke-width': 1.4, 'stroke-dasharray': '7 3 2 3', fill: 'none'};
  [-0.585, 0.585].forEach(v => {
    const vl = mk('line', Object.assign({x1: xScale(v), x2: xScale(v), y1: p.top, y2: p.bottom}, ref), g);
    
    
  });
  const hl = mk('line', Object.assign({x1: p.left, x2: p.right, y1: yScale(1.301), y2: yScale(1.301)}, ref), g);
  
  

  const drawSeries = (rows, color, vip, name) => {
    rows.forEach(d => {
      const c = mk('circle', {cx: xScale(d[0]), cy: yScale(d[1]), r: vipRadius(d[2] === undefined ? vip : d[2]), fill: color, 'fill-opacity': 0.5}, g);
      
      
    });
  };
  drawSeries(p.none.filter(d => d[1] < 1.301), seriesColors.none, 1.05, 'nodiff-point');
  drawSeries(p.up, seriesColors.up, 1.4, 'up-point');
  drawSeries(p.down, seriesColors.down, 1.4, 'down-point');
  drawSeries(p.none.filter(d => d[1] >= 1.301), seriesColors.none, 1.05, 'nodiff-point');

  const frame = mk('rect', {x: p.left, y: p.top, width: p.right - p.left, height: p.bottom - p.top, fill: 'none', stroke: '#555555', 'stroke-width': 1.6}, g);
  
  

  p.xTicks.forEach(v => {
    const t = mk('line', {x1: xScale(v), x2: xScale(v), y1: p.bottom, y2: p.bottom + 4, stroke: '#444', 'stroke-width': 1.2}, g);
    
    
    const l = mk('text', {x: xScale(v), y: p.bottom + 19, 'text-anchor': 'middle', 'font-size': 13.5, fill: '#5a5a5a'}, g, String(v).replace('-', '\u2212'));
    
    
  });
  p.yTicks.forEach(v => {
    const t = mk('line', {x1: p.left - 4, x2: p.left, y1: yScale(v), y2: yScale(v), stroke: '#444', 'stroke-width': 1.2}, g);
    
    
    const l = mk('text', {x: p.left - 7, y: yScale(v) + 5, 'text-anchor': 'end', 'font-size': 13.5, fill: '#5a5a5a'}, g, String(v));
    
    
  });

  const title = mk('text', {x: p.left, y: p.titleY, 'font-size': p.titleSize, fill: '#111'}, g, p.title);
  
  
  const xl = mk('text', {x: (p.left + p.right) / 2, y: p.bottom + 38, 'text-anchor': 'middle', 'font-size': 17, fill: '#222'}, g, 'log2(Fold Change)');
  
  
  const yl = mk('text', {transform: `translate(${p.yLabelX},${(p.top + p.bottom) / 2}) rotate(-90)`, 'text-anchor': 'middle', 'font-size': 17, fill: '#222'}, g, '\u2212log10(P\u2212value)');
  
  

  const lg = mk('g', {}, g);
  
  
  const head = mk('text', {x: p.lgX, y: p.lgY, 'font-size': 17.2, fill: '#111'}, lg, 'DE_Meta');
  
  
  const names = ['UP', 'DW', 'NoDiff'];
  const cols = [seriesColors.up, seriesColors.down, seriesColors.none];
  p.counts.forEach((n, i) => {
    const yy = p.lgDotY + i * p.lgStep;
    const dot = mk('circle', {cx: p.lgX + 13.2, cy: yy, r: 4, fill: cols[i]}, lg);
    
    
    const tx = mk('text', {x: p.lgX + 36.8, y: yy + 5, 'font-size': 14, fill: '#222'}, lg, `${names[i]}:${n}`);
    
    
  });
  const vipHead = mk('text', {x: p.lgX, y: p.vipY, 'font-size': 17.2, fill: '#111'}, lg, 'VIP');
  
  
  p.vip.forEach((v, i) => {
    const yy = p.vipDotY + i * p.vipStep;
    const dot = mk('circle', {cx: p.lgX + 13.2, cy: yy, r: vipRadius(v) - 1.3 + v * 1.1, fill: '#000'}, lg);
    
    
    const tx = mk('text', {x: p.lgX + 36.8, y: yy + 5, 'font-size': 14, fill: '#222'}, lg, v.toFixed(1));
    
    
  });
}

drawVolcano({name: 'volcano-x1', title: 'X1.vs.CK', titleY: 24, titleSize: 20.4, left: 842.7, right: 1187.9, top: 37.2, bottom: 487.3, x0: 1015.6, xUnit: 15.73, y0: 467.3, yUnit: 52.26, yLabelX: 819, xTicks: x1XTicks, yTicks: x1YTicks, up: x1Up, down: x1Down, none: x1NoDiff, counts: x1Counts, vip: vipLevels, lgX: 1214.6, lgY: 138.8, lgDotY: 163.2, lgStep: 27.4, vipY: 280.6, vipDotY: 304.8, vipStep: 27.4});
drawVolcano({name: 'volcano-x2', title: 'X2.vs.CK', titleY: 27.9, titleSize: 21, left: 1375.6, right: 1741.5, top: 41.8, bottom: 498.2, x0: 1558.4, xUnit: 18.43, y0: 477.9, yUnit: 55.36, yLabelX: 1351, xTicks: x2XTicks, yTicks: x2YTicks, up: x2Up, down: x2Down, none: x2NoDiff, counts: x2Counts, vip: vipLevels, lgX: 1769.5, lgY: 144.6, lgDotY: 169.3, lgStep: 27.8, vipY: 288.6, vipDotY: 313.2, vipStep: 27.7});
drawVolcano({name: 'volcano-j1', title: 'J1.vs.CK', titleY: 552.6, titleSize: 21, left: 76.9, right: 435.5, top: 565.9, bottom: 1022, x0: 256.4, xUnit: 14.81, y0: 1002.2, yUnit: 52.36, yLabelX: 53, xTicks: j1XTicks, yTicks: j1YTicks, up: j1Up, down: j1Down, none: j1NoDiff, counts: j1Counts, vip: vipLevelsJ1, lgX: 463, lgY: 683.2, lgDotY: 707.6, lgStep: 27.7, vipY: 826, vipDotY: 851, vipStep: 27.5});
drawVolcano({name: 'volcano-j2', title: 'J2.vs.CK', titleY: 560.6, titleSize: 21, left: 656.1, right: 1014.7, top: 573.9, bottom: 1020.3, x0: 835.6, xUnit: 16.33, y0: 1000.4, yUnit: 65.8, yLabelX: 632, xTicks: j2XTicks, yTicks: j2YTicks, up: j2Up, down: j2Down, none: j2NoDiff, counts: j2Counts, vip: vipLevels, lgX: 1042.4, lgY: 674.8, lgDotY: 698.9, lgStep: 27.2, vipY: 814.8, vipDotY: 839.2, vipStep: 27.3});
</script>
</body>
</html>
